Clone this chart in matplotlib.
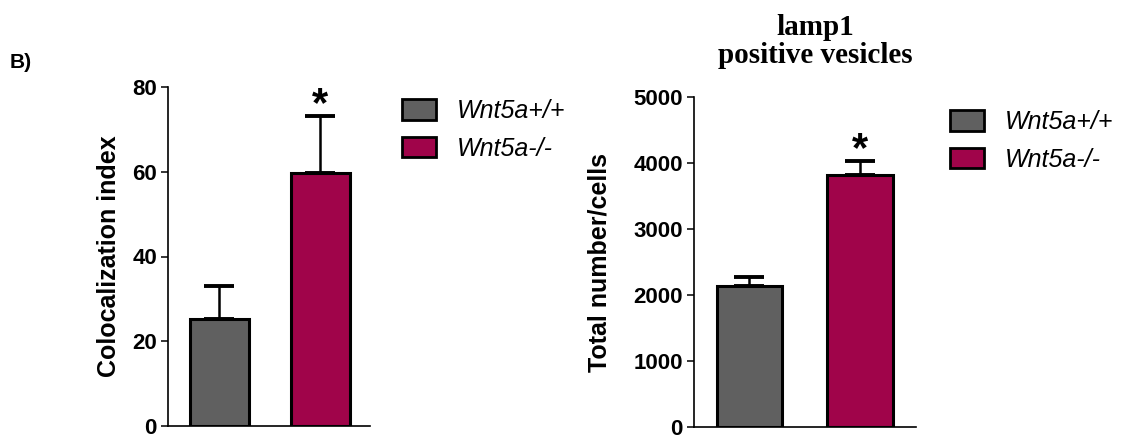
import numpy as np
import matplotlib
matplotlib.use('Agg')
import matplotlib.pyplot as plt
from matplotlib.patches import Patch

# data
groups = ['Wnt5a+/+', 'Wnt5a-/-']
coloc_mean = [25.2, 59.6]
coloc_sem = [7.9, 13.6]
lamp_mean = [2145, 3818]
lamp_sem = [128, 212]
colors = ['#606060', '#A0044A']

plt.rcParams['font.family'] = ['Liberation Sans', 'DejaVu Sans']

fig = plt.figure(figsize=(11.38, 4.4), dpi=100)


def bar_panel(ax, means, sems, ylim, yticks, ylabel, xlim, width, labelpad):
    x = np.arange(len(means))
    ax.bar(x, means, width=width, color=colors, edgecolor='black', linewidth=2.2, zorder=3)
    for xi, m, s in zip(x, means, sems):
        ax.errorbar(xi, m, yerr=[[0], [s]], fmt='none', ecolor='black',
                    elinewidth=1.8, capsize=11, capthick=2.8, zorder=2)
    # significance star over the knockout bar
    ax.annotate('*', (x[1], means[1] + sems[1]), xytext=(0, 0), textcoords='offset points',
                ha='center', va='baseline', fontsize=30, fontweight='bold')
    ax.set_xlim(*xlim)
    ax.set_ylim(*ylim)
    ax.set_yticks(yticks)
    ax.set_xticks([])
    for s in ['top', 'right']:
        ax.spines[s].set_visible(False)
    ax.spines['left'].set_linewidth(1.2)
    ax.spines['bottom'].set_linewidth(1.2)
    ax.tick_params(axis='y', length=5, width=1.1, labelsize=16, pad=3)
    for t in ax.get_yticklabels():
        t.set_fontweight('bold')
    ax.set_ylabel(ylabel, fontsize=18, fontweight='bold', labelpad=labelpad)


# left panel: colocalization
ax1 = fig.add_axes([168/1138, 1 - 426/440, 202/1138, 339/440])
bar_panel(ax1, coloc_mean, coloc_sem, (0, 80), [0, 20, 40, 60, 80],
          'Colocalization index', (-0.512, 1.497), 0.587, 8)

# right panel: lamp1 vesicles
ax2 = fig.add_axes([694/1138, 1 - 427.3/440, 222/1138, 330/440])
bar_panel(ax2, lamp_mean, lamp_sem, (0, 5000), [0, 1000, 2000, 3000, 4000, 5000],
          'Total number/cells', (-0.502, 1.507), 0.593, 16)
ax2.set_title('lamp1\npositive vesicles', fontfamily='Liberation Serif', fontweight='bold',
              fontsize=21, x=0.545, pad=25, linespacing=1.05)

handles = [Patch(facecolor=c, edgecolor='black', linewidth=2) for c in colors]
leg_kw = dict(frameon=False, loc='upper left', handlelength=1.36,
              handleheight=0.88, handletextpad=0.84, labelspacing=0.55, borderpad=0,
              borderaxespad=0, prop={'style': 'italic', 'size': 18})
fig.legend(handles, groups, bbox_to_anchor=(402/1138, 1 - 99/440), **leg_kw)
fig.legend(handles, groups, bbox_to_anchor=(950/1138, 1 - 110/440), **leg_kw)

fig.text(10/1138, 1 - 62/440, 'B)', fontsize=15, fontweight='bold', va='center', ha='left')

fig.savefig('out.png', dpi=100)
